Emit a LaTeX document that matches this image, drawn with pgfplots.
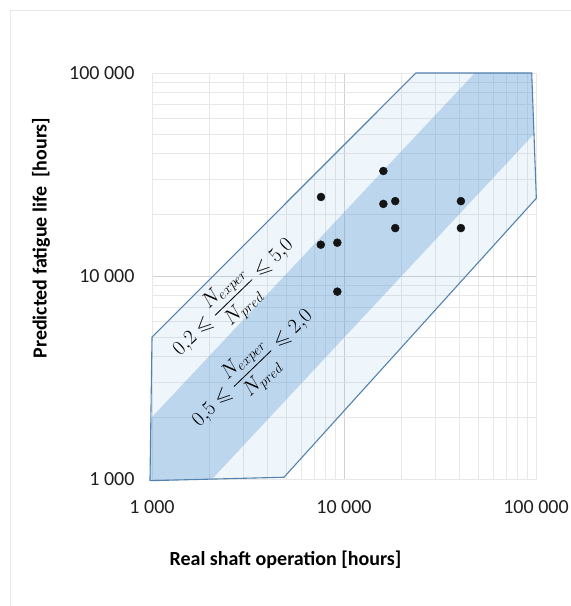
\documentclass[border=0pt]{standalone}
\usepackage{amsmath,amssymb}
\usepackage{pgfplots}
\pgfplotsset{compat=1.18}
\usepackage{fontspec}
\setmainfont{Carlito}

\definecolor{gridmaj}{RGB}{210,210,210}
\definecolor{gridmin}{RGB}{232,232,232}
\definecolor{bandblue}{RGB}{91,155,213}
\definecolor{edgeblue}{RGB}{84,130,175}

\begin{document}
\begin{tikzpicture}[x=1pt,y=1pt]
\useasboundingbox (0,0) rectangle (571,606);
\draw[gray!18, line width=0.9pt] (10.5,-5) -- (10.5,595.5) -- (580,595.5);
\begin{axis}[
  at={(152pt,127pt)}, anchor=south west,
  scale only axis, width=384pt, height=406pt,
  xmode=log, ymode=log,
  xmin=1000, xmax=100000, ymin=1000, ymax=100000,
  clip=false,
  axis line style={draw=gridmin, line width=0.8pt},
  grid=both,
  major grid style={draw=gridmaj, line width=0.8pt},
  minor grid style={draw=gridmin, line width=0.8pt},
  major tick length=0pt, minor tick length=0pt,
  xtick={1000,10000,100000}, xticklabels={1 000,10 000,100 000},
  ytick={1000,10000,100000}, yticklabels={1 000,10 000,100 000},
  minor xtick={2000,3000,4000,5000,6000,7000,8000,9000,20000,30000,40000,50000,60000,70000,80000,90000},
  minor ytick={2000,3000,4000,5000,6000,7000,8000,9000,20000,30000,40000,50000,60000,70000,80000,90000},
  tick label style={font=\fontsize{20}{24}\selectfont, text=black!88},
  xticklabel style={anchor=center, yshift=-28pt},
  yticklabel style={anchor=east, xshift=-14pt},
]
% data points
\addplot[only marks, mark=*, mark size=4pt, color=black!92, mark options={draw=black!92}] coordinates {
  (7590,24500) (7570,14260) (9230,14590) (9230,8375)
  (16030,32900) (16030,22650) (18490,23380) (18490,17220)
  (40630,23380) (40630,17220)
};
% outer band fill
\addplot[fill=bandblue, fill opacity=0.1, draw=none] coordinates {
  (976,981) (1000,5000) (23700,100000) (95000,100000) (100400,24150) (4870,1020)
} -- cycle;
% inner band fill
\addplot[fill=bandblue, fill opacity=0.34, draw=none] coordinates {
  (976,981) (986,1990) (48000,100000) (95000,100000) (97600,50000) (2050,996)
} -- cycle;
% outline
\addplot[draw=edgeblue, line width=1.1pt] coordinates {
  (976,981) (1000,5000) (23700,100000) (95000,100000) (100400,24150) (4870,1020)
} -- cycle;
\node[rotate=44, font=\fontsize{20.5}{24}\selectfont] at (axis cs:2684,7763)
  {$0{,}2 \leqslant \dfrac{N_{exper}}{N_{pred}} \leqslant 5{,}0$};
\node[rotate=44, font=\fontsize{20.5}{24}\selectfont] at (axis cs:3374,3467)
  {$0{,}5 \leqslant \dfrac{N_{exper}}{N_{pred}} \leqslant 2{,}0$};
\end{axis}
\node[font=\bfseries\fontsize{20}{24}\selectfont] at (285.5,46) {Real shaft operation [hours]};
\node[rotate=90, font=\bfseries\fontsize{20}{24}\selectfont] at (41,368) {Predicted fatigue life\ \ [hours]};
\end{tikzpicture}
\end{document}
